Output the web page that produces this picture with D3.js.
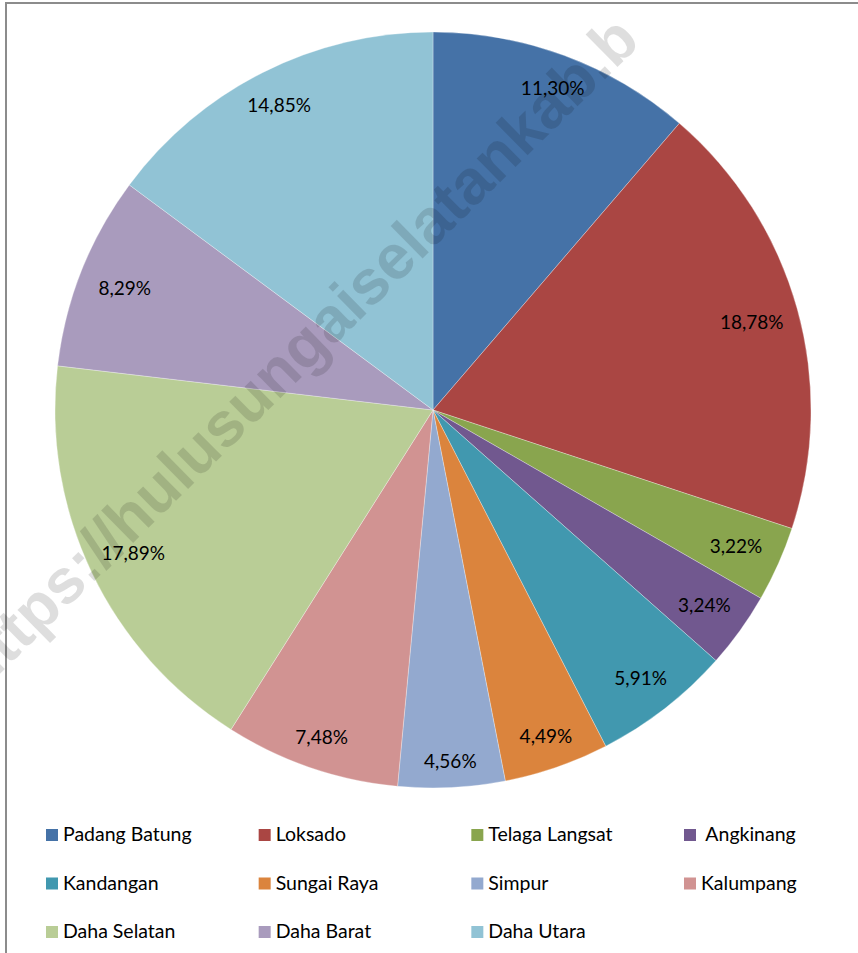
<!DOCTYPE html>
<html>
<head>
<meta charset="utf-8">
<script src="https://cdn.jsdelivr.net/npm/d3@7"></script>
<style>
  body { margin: 0; background: #fff; }
  svg { display: block; }
</style>
</head>
<body>
<div id="pie_viz"></div>
<script>
var kecamatan = ["Padang Batung", "Loksado", "Telaga Langsat", "Angkinang", "Kandangan",
  "Sungai Raya", "Simpur", "Kalumpang", "Daha Selatan", "Daha Barat", "Daha Utara"];
var persen = [11.30, 18.78, 3.22, 3.24, 5.91, 4.49, 4.56, 7.48, 17.89, 8.29, 14.85];
var legendLabels = ["Padang Batung", "Loksado", "Telaga Langsat", " Angkinang", "Kandangan",
  "Sungai Raya", "Simpur", "Kalumpang", "Daha Selatan", "Daha Barat", "Daha Utara"];
var warna = ["#4572A7", "#AA4643", "#89A54E", "#71588F", "#4198AF", "#DB843D",
  "#93A9CF", "#D19392", "#B9CD96", "#A99BBD", "#91C3D5"];

var width = 858, height = 953;
var cx = 433, cy = 410, radius = 378;

var data = kecamatan.map((k, i) => ({ name: k, value: persen[i], legend: legendLabels[i] }));

var svg = d3.select("#pie_viz")
  .append("svg")
    .attr("width", width)
    .attr("height", height);

// chart frame (right and bottom edges run off the picture)
svg.append("rect")
  .attr("x", 6)
  .attr("y", 3)
  .attr("width", width + 20)
  .attr("height", height + 20)
  .attr("fill", "none")
  .attr("stroke", "#8c8c8c")
  .attr("stroke-width", 2);

var color = d3.scaleOrdinal()
  .domain(kecamatan)
  .range(warna);

var pie = d3.pie()
  .value(d => d.value)
  .sort(null);

var arc = d3.arc()
  .innerRadius(0)
  .outerRadius(radius);

var g = svg.append("g")
  .attr("transform", `translate(${cx},${cy})`);

var arcs = pie(data);

g.selectAll("path")
  .data(arcs)
  .join("path")
    .attr("d", arc)
    .attr("fill", d => color(d.data.name))
    .attr("stroke", "#ffffff")
    .attr("stroke-opacity", 0.5)
    .attr("stroke-width", 0.6);

// watermark over the slices, under the labels
var wmFont = "'Liberation Sans', Arial, sans-serif";
svg.append("text")
  .attr("transform", "translate(130,546) rotate(-44.5)")
  .attr("text-anchor", "start")
  .style("font-family", wmFont)
  .style("font-weight", "bold")
  .style("font-size", "63px")
  .attr("fill", "#000")
  .attr("fill-opacity", 0.13)
  .text("hulusungaiselatankab.b");

svg.append("text")
  .attr("transform", "translate(130,546) rotate(-44.5)")
  .attr("text-anchor", "end")
  .style("font-family", wmFont)
  .style("font-weight", "bold")
  .style("font-size", "63px")
  .attr("fill", "#000")
  .attr("fill-opacity", 0.13)
  .text("https://");

// labels sit a little deeper where the slice points sideways
function labelPos(d) {
  var a = (d.startAngle + d.endAngle) / 2;
  var r = 352 - 22 * Math.abs(Math.sin(a));
  return [Math.sin(a) * r, -Math.cos(a) * r];
}

g.selectAll("text.lbl")
  .data(arcs)
  .join("text")
    .attr("class", "lbl")
    .attr("transform", d => `translate(${labelPos(d)})`)
    .attr("text-anchor", "middle")
    .attr("dominant-baseline", "central")
    .style("font-family", "Lato, 'Open Sans', sans-serif")
    .style("font-size", "19px")
    .attr("fill", "#000")
    .text(d => d.data.value.toFixed(2).replace(".", ",") + "%");

// legend: 4 columns, 3 rows
var legX = d3.scaleLinear().domain([0, 3]).range([46, 684]);
var legY = d3.scaleLinear().domain([0, 2]).range([841, 938]);

var leg = svg.append("g")
  .selectAll("g")
  .data(data)
  .join("g")
    .attr("transform", (d, i) => `translate(${legX(i % 4)},${legY(Math.floor(i / 4))})`);

leg.append("rect")
  .attr("x", 0)
  .attr("y", -12)
  .attr("width", 12)
  .attr("height", 12)
  .attr("fill", d => color(d.name));

leg.append("text")
  .attr("x", 17)
  .attr("y", 0)
  .style("font-family", "Lato, 'Open Sans', sans-serif")
  .style("font-size", "19.5px")
  .style("white-space", "pre")
  .attr("xml:space", "preserve")
  .attr("fill", "#000")
  .text(d => d.legend);
</script>
</body>
</html>
